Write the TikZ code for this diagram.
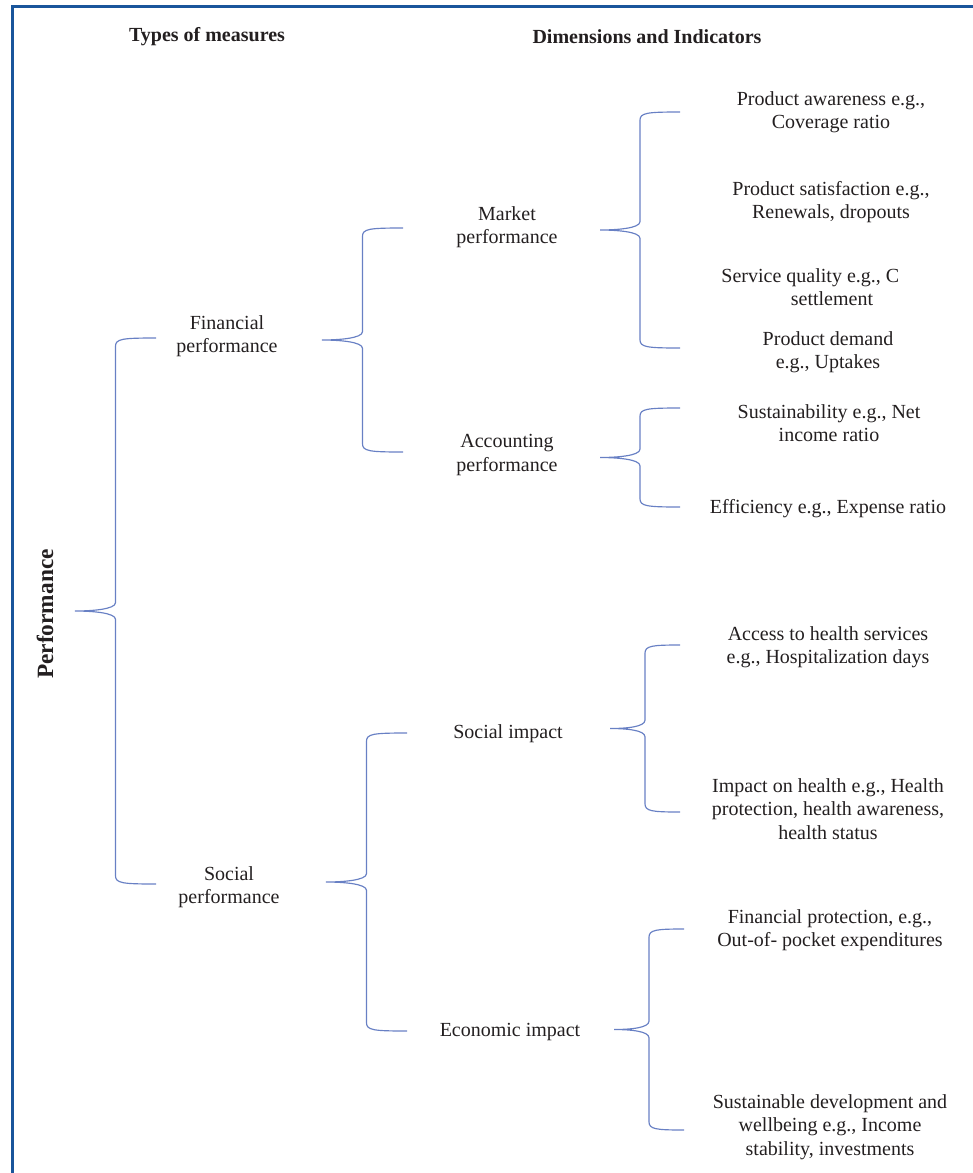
\documentclass[tikz,border=0pt]{standalone}
\usepackage{fontspec}
\setmainfont{Liberation Serif}
\usepackage{tikz}
\usetikzlibrary{calc}
\definecolor{framecol}{RGB}{25,85,155}
\definecolor{bracecol}{RGB}{104,128,196}
\definecolor{txtcol}{RGB}{35,31,32}

% curly brace from an upper arm end, through a tip, to a lower arm end
\newcommand{\curly}[3]{%
  \draw[brc] let \p1=(#1), \p2=(#2), \p3=(#3), \n1={(\x1+\x2)/2} in
    (\p2) .. controls (\n1+4pt,\y2) and (\n1,\y2-0.5pt) .. (\n1,\y2-5pt)
    -- (\n1,\y1+5pt) .. controls (\n1,\y1+1pt) and (\x1+10pt,\y1) .. (\p1)
    .. controls (\x1+10pt,\y1) and (\n1,\y1-1pt) .. (\n1,\y1-5pt)
    -- (\n1,\y3+5pt) .. controls (\n1,\y3+0.5pt) and (\n1+4pt,\y3) .. (\p3);}

\begin{document}
\begin{tikzpicture}[x=0.6pt, y=-0.6pt, label/.style={align=center, text=txtcol, inner sep=0pt, yshift=-1.2pt, font=\fontsize{12}{14.1}\selectfont}, header/.style={text=txtcol, inner sep=0pt, yshift=-1.2pt, font=\fontsize{12}{14}\selectfont\bfseries}, brc/.style={draw=bracecol, line width=0.7pt}, frame/.style={draw=framecol, line width=1.6pt}]
    \useasboundingbox (0,0) rectangle (973,1173);
    \draw[frame] (12.5,1175) -- (12.5,6.5) -- (975,6.5);

    %Nodes
    \node[header](types) at (207,35){Types of measures};
    \node[header](dims) at (647,35){Dimensions and Indicators};
    \node[header, rotate=90, yshift=1.2pt, font=\fontsize{14}{16}\selectfont\bfseries](perf) at (47,612){Performance};

    \node[label](fin) at (227,334){Financial\\performance};
    \node[label](soc) at (229,885){Social\\performance};

    \node[label](mkt) at (507,225){Market\\performance};
    \node[label](acc) at (507,453){Accounting\\performance};
    \node[label](simp) at (508,732){Social impact};
    \node[label](eimp) at (510,1030){Economic impact};

    \node[label](awr) at (831,110){Product awareness e.g.,\\Coverage ratio};
    \node[label](sat) at (831,200){Product satisfaction e.g.,\\Renewals, dropouts};
    \node[label](svc) at (832,285){Service quality e.g., C\hspace*{26pt}\\settlement};
    \node[label](dem) at (828,350){Product demand\\e.g., Uptakes};
    \node[label](sus) at (829,421){Sustainability e.g., Net\\income ratio};
    \node[label](eff) at (828,507){Efficiency e.g., Expense ratio};
    \node[label](acs) at (828,645){Access to health services\\e.g., Hospitalization days};
    \node[label](ioh) at (828,807){Impact on health e.g., Health\\protection, health awareness,\\health status};
    \node[label](fpr) at (830,928){Financial protection, e.g.,\\Out-of- pocket expenditures};
    \node[label](sdv) at (830,1125){Sustainable development and\\wellbeing e.g., Income\\stability, investments};

    %Brace ends
    \coordinate (perf-tip) at (75,611);
    \coordinate (perf-up) at (156,338);
    \coordinate (perf-dn) at (156,884);
    \coordinate (fin-tip) at (322,340);
    \coordinate (fin-up) at (403,228);
    \coordinate (fin-dn) at (403,452);
    \coordinate (soc-tip) at (326,882);
    \coordinate (soc-up) at (407,733);
    \coordinate (soc-dn) at (407,1031);
    \coordinate (mkt-tip) at (600,230);
    \coordinate (mkt-up) at (680,112);
    \coordinate (mkt-dn) at (680,348);
    \coordinate (acc-tip) at (600,457.5);
    \coordinate (acc-up) at (680,408);
    \coordinate (acc-dn) at (680,507);
    \coordinate (simp-tip) at (610,728.5);
    \coordinate (simp-up) at (680,645);
    \coordinate (simp-dn) at (680,812);
    \coordinate (eimp-tip) at (614,1029.5);
    \coordinate (eimp-up) at (684,929);
    \coordinate (eimp-dn) at (684,1130);

    %Lines
    \curly{perf-tip}{perf-up}{perf-dn}
    \curly{fin-tip}{fin-up}{fin-dn}
    \curly{soc-tip}{soc-up}{soc-dn}
    \curly{mkt-tip}{mkt-up}{mkt-dn}
    \curly{acc-tip}{acc-up}{acc-dn}
    \curly{simp-tip}{simp-up}{simp-dn}
    \curly{eimp-tip}{eimp-up}{eimp-dn}

\end{tikzpicture}
\end{document}
